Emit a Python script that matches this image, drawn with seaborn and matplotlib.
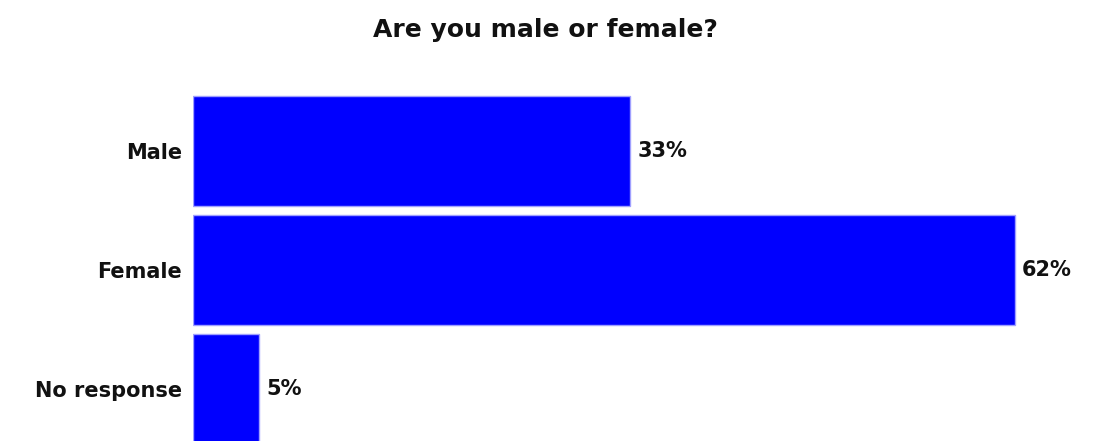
import matplotlib
matplotlib.use("Agg")
import matplotlib.pyplot as plt
import seaborn as sns
import pandas as pd

categories = ["Male", "Female", "No response"]
percentages = [33, 62, 5]
value_labels = ["33%", "62%", "5%"]
title = "Are you male or female?"

df = pd.DataFrame({"category": categories, "pct": percentages})

sns.set_theme(style="white")
plt.rcParams["font.family"] = ["DejaVu Sans"]

W, H = 1095, 441
fig = plt.figure(figsize=(W / 100, H / 100), dpi=100)
fig.patch.set_facecolor("white")
left_px, right_px, top_px, bottom_px = 193, 1095, 85, 441
ax = fig.add_axes([left_px / W, 1 - bottom_px / H, (right_px - left_px) / W, (bottom_px - top_px) / H])

sns.barplot(data=df, x="pct", y="category", orient="h", color="#0000ff",
            saturation=1, width=0.92, edgecolor="#a0a0ff", linewidth=1, ax=ax)

ax.set_xlim(0, (right_px - left_px) / 13.25)
ax.set_ylim((bottom_px - 151) / 119, -(151 - top_px) / 119)

for i, (v, lab) in enumerate(zip(percentages, value_labels)):
    ax.annotate(lab, xy=(v, i), xytext=(5, 0), textcoords="offset points",
                va="center", ha="left", fontsize=15, fontweight="bold", color="#111111")

ax.set_xlabel("")
ax.set_ylabel("")
ax.set_xticks([])
ax.tick_params(axis="y", length=0, pad=8, labelsize=15)
for t in ax.get_yticklabels():
    t.set_fontweight("bold")
    t.set_color("#111111")
for s in ax.spines.values():
    s.set_visible(False)
ax.set_facecolor("white")

fig.text(545 / W, 1 - 30 / H, title, ha="center", va="center",
         fontsize=18, fontweight="bold", color="#111111")

fig.savefig("out.png", dpi=100, facecolor="white")
